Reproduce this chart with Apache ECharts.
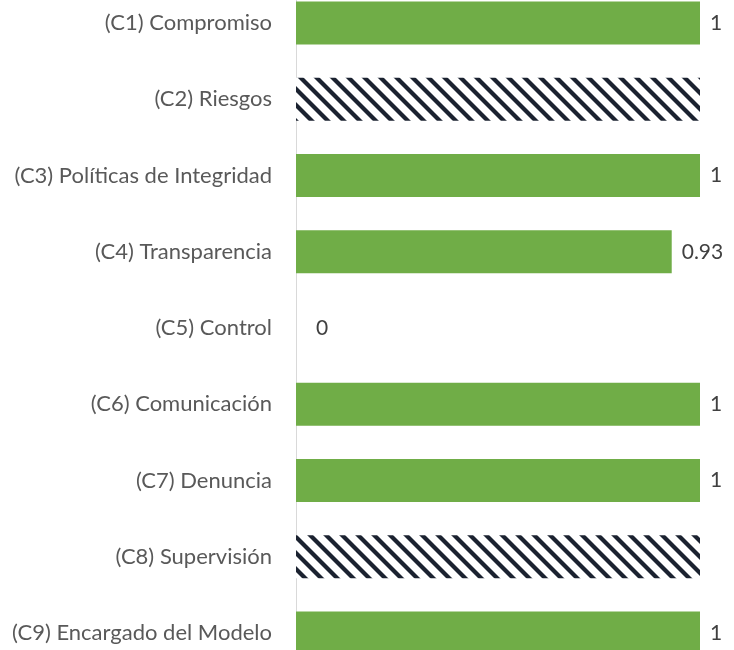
<!DOCTYPE html>
<html>
<head>
<meta charset="utf-8">
<script src="https://cdn.jsdelivr.net/npm/echarts@6/dist/echarts.min.js"></script>
<style>
  html, body { margin: 0; padding: 0; background: #fff; overflow: hidden; }
  body { width: 734px; height: 650px; position: relative; }
  /* el gráfico original está recortado arriba y abajo */
  #chart { width: 734px; height: 686px; position: absolute; left: 0; top: -15px; }
</style>
</head>
<body>
<div id="chart"></div>
<script>
// categorías de arriba hacia abajo
const categories = [
  "(C1) Compromiso",
  "(C2) Riesgos",
  "(C3) Políticas de Integridad",
  "(C4) Transparencia",
  "(C5) Control",
  "(C6) Comunicación",
  "(C7) Denuncia",
  "(C8) Supervisión",
  "(C9) Encargado del Modelo"
];
const values = [1, 1, 1, 0.93, 0, 1, 1, 1, 1];
// componentes sin evaluar (se dibujan rayados y sin etiqueta)
const notApplicable = [false, true, false, false, false, false, false, true, false];

// patrón rayado
function makeHatch() {
  const s = 16;
  const c = document.createElement("canvas");
  c.width = s; c.height = s;
  const ctx = c.getContext("2d");
  ctx.fillStyle = "#ffffff";
  ctx.fillRect(0, 0, s, s);
  ctx.strokeStyle = "#1b2230";
  ctx.lineWidth = 4.2;
  for (let k = -1; k <= 1; k++) {
    ctx.beginPath();
    ctx.moveTo(-4, -4 + s * k);
    ctx.lineTo(s + 4, s + 4 + s * k);
    ctx.stroke();
  }
  return c;
}
const hatch = makeHatch();

const myChart = echarts.init(document.getElementById("chart"));
const seriesData = values.map(function (v, i) {
  if (notApplicable[i]) {
    return {
      value: v,
      itemStyle: { color: { image: hatch, repeat: "repeat" } },
      label: { show: false }
    };
  }
  return v === 0 ? { value: v, label: { distance: 20 } } : v;
});

myChart.setOption({
  animation: false,
  grid: { left: 296, right: 34, top: 0, bottom: 0, containLabel: false },
  xAxis: {
    type: "value",
    min: 0,
    max: 1,
    show: false
  },
  yAxis: {
    type: "category",
    inverse: true,
    data: categories,
    axisLine: { show: true, lineStyle: { color: "#d9d9d9", width: 1 } },
    axisTick: { show: false },
    axisLabel: {
      color: "#595959",
      fontSize: 22,
      fontFamily: "Lato",
      margin: 24
    }
  },
  series: [{
    type: "bar",
    data: seriesData,
    barWidth: 43,
    itemStyle: { color: "#70ad47" },
    label: {
      show: true,
      position: "right",
      distance: 10,
      color: "#404040",
      fontSize: 21,
      fontFamily: "Lato",
      formatter: function (p) { return String(p.value); }
    }
  }]
});
</script>
</body>
</html>
